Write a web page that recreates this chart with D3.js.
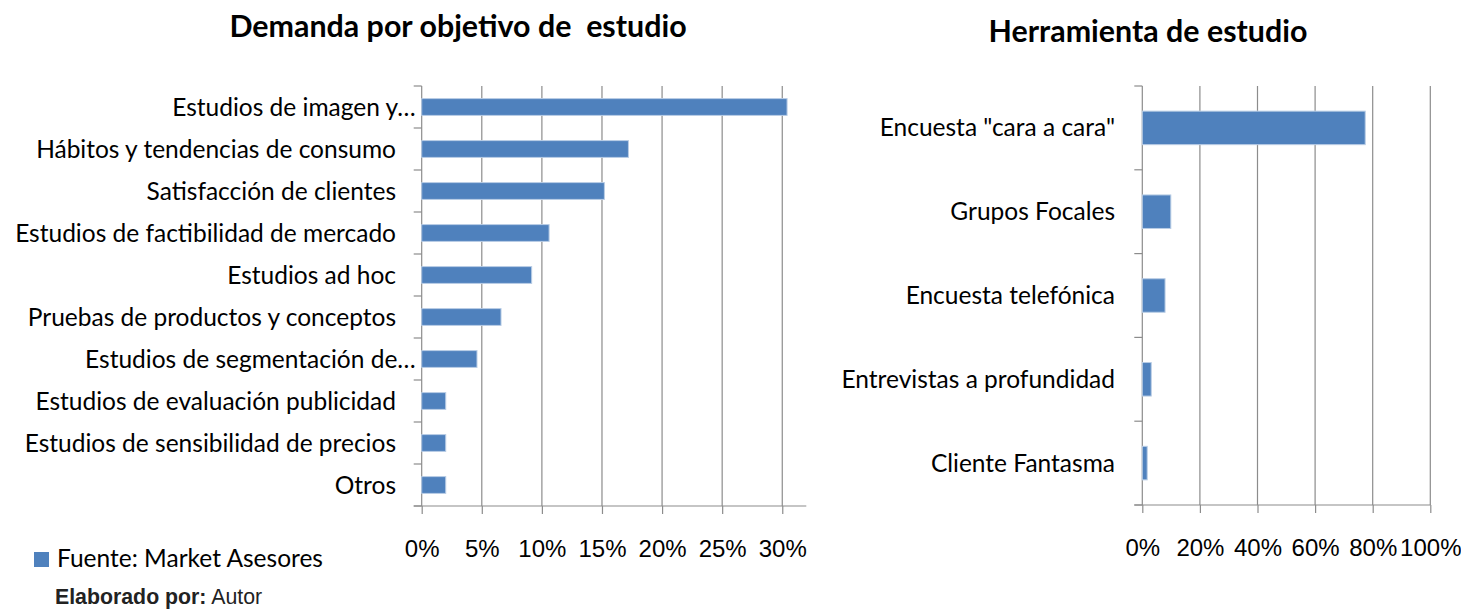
<!DOCTYPE html>
<html>
<head>
<meta charset="utf-8">
<script src="https://cdn.jsdelivr.net/npm/d3@7"></script>
<style>
  body { margin: 0; background: #fff; }
  svg { font-family: Lato, "Open Sans", sans-serif; }
  .grid line { stroke: #8c8c8c; stroke-width: 1.2; }
  .axis path, .axis line { stroke: #8c8c8c; stroke-width: 1.2; }
  .axis text { fill: #000; font-size: 24px; }
  .title { font-weight: bold; font-size: 30.4px; }
</style>
</head>
<body>
<svg id="chart" width="1461" height="610"></svg>
<script>
// left chart: demand by study objective
var objetivos = [
  "Estudios de imagen y…",
  "Hábitos y tendencias de consumo",
  "Satisfacción de clientes",
  "Estudios de factibilidad de mercado",
  "Estudios ad hoc",
  "Pruebas de productos y conceptos",
  "Estudios de segmentación de…",
  "Estudios de evaluación publicidad",
  "Estudios de sensibilidad de precios",
  "Otros"
];
var objetivoValores = [0.304, 0.172, 0.152, 0.106, 0.0915, 0.066, 0.046, 0.02, 0.02, 0.02];
var objetivoTicks = [0, 0.05, 0.10, 0.15, 0.20, 0.25, 0.30];

// right chart: study tool
var herramientas = [
  "Encuesta \"cara a cara\"",
  "Grupos Focales",
  "Encuesta telefónica",
  "Entrevistas a profundidad",
  "Cliente Fantasma"
];
var herramientaValores = [0.774, 0.099, 0.079, 0.031, 0.017];
var herramientaTicks = [0, 0.2, 0.4, 0.6, 0.8, 1.0];

var barColor = "#4f81bd";
var svg = d3.select("#chart");

function drawBars(opts) {
  var x = d3.scaleLinear().domain([0, opts.max]).range([opts.left, opts.right]);
  var y = d3.scaleBand().domain(opts.cats).range([opts.top, opts.bottom]).paddingInner(0.6).paddingOuter(0.3);
  var g = svg.append("g");

  // vertical gridlines
  g.append("g").attr("class", "grid")
    .selectAll("line").data(opts.ticks.slice(1)).join("line")
    .attr("x1", d => x(d)).attr("x2", d => x(d))
    .attr("y1", opts.top).attr("y2", opts.bottom);

  // y axis, tick marks sit between categories
  var step = (opts.bottom - opts.top) / opts.cats.length;
  var yax = g.append("g").attr("class", "axis");
  yax.append("line").attr("x1", opts.left).attr("x2", opts.left).attr("y1", opts.top).attr("y2", opts.bottom);
  yax.selectAll("line.t").data(d3.range(opts.cats.length + 1)).join("line").attr("class", "t")
    .attr("x1", opts.left - 8).attr("x2", opts.left)
    .attr("y1", i => opts.top + i * step).attr("y2", i => opts.top + i * step);

  // x axis
  var xax = g.append("g").attr("class", "axis")
    .attr("transform", "translate(0," + opts.bottom + ")")
    .call(d3.axisBottom(x).tickValues(opts.ticks).tickFormat(d3.format(".0%")).tickSize(8).tickSizeOuter(0).tickPadding(26));
  xax.select(".domain").remove();
  xax.append("line").attr("x1", opts.left - 8).attr("x2", opts.right).attr("y1", 0).attr("y2", 0);

  // bars
  g.selectAll("rect").data(opts.vals).join("rect")
    .attr("x", x(0))
    .attr("y", (d, i) => y(opts.cats[i]))
    .attr("width", d => x(d) - x(0))
    .attr("height", y.bandwidth())
    .attr("fill", barColor)
    .attr("stroke", "#b9cde5").attr("stroke-width", 1);

  // category labels (truncated ones run up to the ticks)
  g.selectAll("text.cat").data(opts.cats).join("text").attr("class", "cat")
    .attr("x", d => d.endsWith("…") ? opts.left - 6 : opts.labelX)
    .attr("y", d => y(d) + y.bandwidth() / 2)
    .attr("dy", "0.35em")
    .attr("text-anchor", "end")
    .attr("font-size", 24.5)
    .text(d => d);

  svg.append("text").attr("class", "title")
    .attr("x", opts.titleX).attr("y", opts.titleY)
    .attr("text-anchor", "middle")
    .text(opts.title);
}

drawBars({
  cats: objetivos, vals: objetivoValores, ticks: objetivoTicks, max: 0.32,
  left: 421.7, right: 806.3, top: 86, bottom: 506, labelX: 396,
  title: "Demanda por objetivo de  estudio", titleX: 458, titleY: 37
});

drawBars({
  cats: herramientas, vals: herramientaValores, ticks: herramientaTicks, max: 1.0,
  left: 1142.3, right: 1430.3, top: 86, bottom: 505, labelX: 1115,
  title: "Herramienta de estudio", titleX: 1148, titleY: 42
});

svg.selectAll(".title").attr("xml:space", "preserve").style("white-space", "pre");

// legend
svg.append("rect").attr("x", 34).attr("y", 552).attr("width", 15).attr("height", 15).attr("fill", barColor);
svg.append("text").attr("x", 57).attr("y", 567).attr("font-size", 24.5).text("Fuente: Market Asesores");

var credit = svg.append("text").attr("x", 55).attr("y", 604)
  .attr("font-family", "'Liberation Sans', Arial, sans-serif").attr("font-size", 21.3).attr("fill", "#222");
credit.append("tspan").attr("font-weight", "bold").text("Elaborado por:");
credit.append("tspan").text(" Autor");
</script>
</body>
</html>
